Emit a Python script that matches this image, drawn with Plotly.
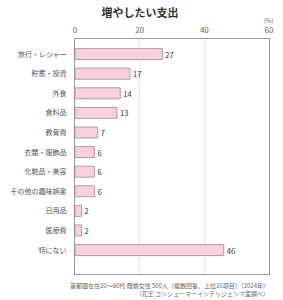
import plotly.graph_objects as go

categories = ["旅行・レジャー", "貯蓄・投資", "外食", "食料品", "教育費", "衣類・服飾品",
              "化粧品・美容", "その他の趣味娯楽", "日用品", "医療費", "特にない"]
values = [27, 17, 14, 13, 7, 6, 6, 6, 2, 2, 46]
x_ticks = [0, 20, 40, 60]

font = "Noto Sans CJK JP"

fig = go.Figure(go.Bar(
    y=categories, x=values, orientation="h",
    marker=dict(color="#fad0de", line=dict(color="#b39ca4", width=1)),
    width=0.56,
    text=[str(v) for v in values], textposition="outside",
    textfont=dict(size=11, color="#333333", family=font),
    cliponaxis=False,
))

fig.update_layout(
    width=283, height=300,
    margin=dict(l=75, r=9, t=39, b=26),
    paper_bgcolor="white", plot_bgcolor="white",
    showlegend=False,
    font=dict(family=font),
    title=dict(text="<b>増やしたい支出</b>", x=0.495, xanchor="center", y=0.955, yanchor="middle",
               font=dict(size=11, color="#333333", family=font)),
    xaxis=dict(range=[0, 60], tickvals=x_ticks, side="top", showgrid=True, gridcolor="#e6e6e6",
               gridwidth=1, tickfont=dict(size=8, color="#666666"), ticks="", zeroline=False,
               showline=True, linecolor="#9a9a9a", mirror=True, ticklabelstandoff=2),
    yaxis=dict(type="category", range=[11.22, -0.77], tickfont=dict(size=7, color="#555555"),
               ticks="", showline=True, linecolor="#9a9a9a", mirror=True, ticklabelstandoff=6),
    bargap=0.44,
)

fig.add_annotation(text="(%)", x=1.0, y=1.0, xref="paper", yref="paper", yshift=12,
                   xanchor="center", yanchor="bottom", showarrow=False,
                   font=dict(size=6, color="#666666"))
fig.add_annotation(text="首都圏在住20〜60代 既婚女性 500人（複数回答、上位10項目）（2024年）<br>（花王 コンシューマーインテリジェンス室調べ）",
                   x=1.01, y=0, xref="paper", yref="paper", yshift=-5,
                   xanchor="right", yanchor="top", align="right", showarrow=False,
                   font=dict(size=6, color="#666666"))

fig.write_html("out.html")
